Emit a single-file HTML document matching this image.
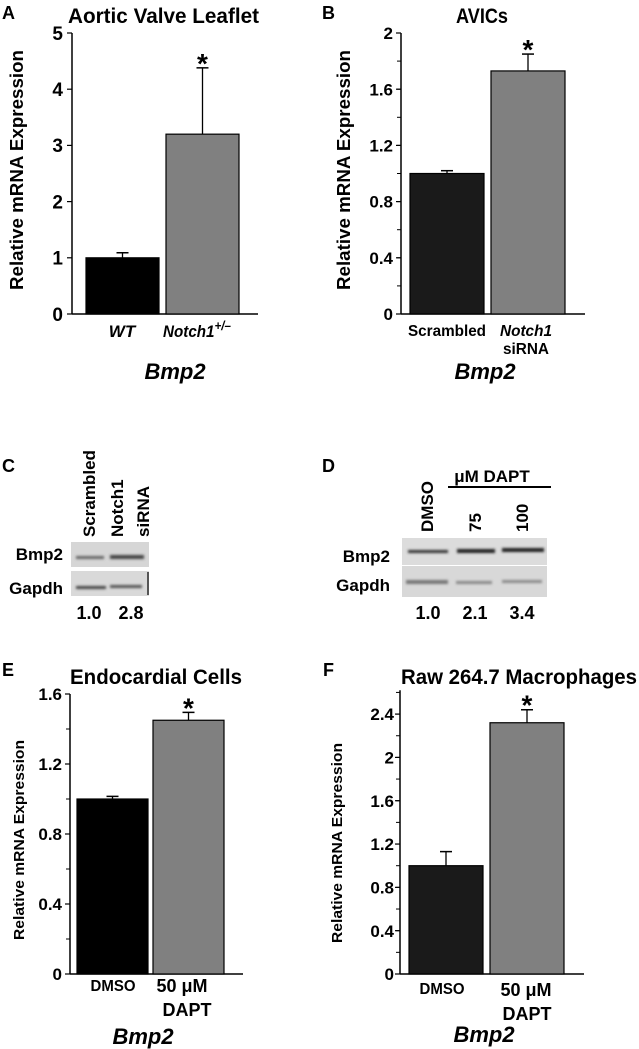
<!DOCTYPE html>
<html><head><meta charset="utf-8"><style>
html,body{margin:0;padding:0;background:#fff;}
svg{display:block;font-family:"Liberation Sans",Arial,sans-serif;font-weight:bold;}
</style></head><body>
<svg id="fig" width="639" height="1049" viewBox="0 0 639 1049" xmlns="http://www.w3.org/2000/svg">
<defs><filter id="blur" x="-20%" y="-100%" width="140%" height="300%"><feGaussianBlur stdDeviation="1.2"/></filter></defs>
<text x="2" y="19" font-size="18">A</text>
<text x="322" y="19" font-size="18">B</text>
<text x="2" y="472" font-size="18">C</text>
<text x="322" y="472" font-size="18">D</text>
<text x="2" y="676" font-size="18">E</text>
<text x="323" y="676" font-size="18">F</text>

<text x="68" y="23" font-size="21" textLength="191" lengthAdjust="spacingAndGlyphs">Aortic Valve Leaflet</text>
<text x="456" y="23" font-size="21" textLength="52" lengthAdjust="spacingAndGlyphs">AVICs</text>
<text x="70" y="684" font-size="21" textLength="172" lengthAdjust="spacingAndGlyphs">Endocardial Cells</text>
<text x="401" y="684" font-size="21" textLength="236" lengthAdjust="spacingAndGlyphs">Raw 264.7 Macrophages</text>

<text transform="translate(23,170) rotate(-90)" text-anchor="middle" font-size="18" textLength="240" lengthAdjust="spacingAndGlyphs">Relative mRNA Expression</text>
<text transform="translate(350,170) rotate(-90)" text-anchor="middle" font-size="18" textLength="240" lengthAdjust="spacingAndGlyphs">Relative mRNA Expression</text>
<text transform="translate(24,840) rotate(-90)" text-anchor="middle" font-size="15" textLength="200" lengthAdjust="spacingAndGlyphs">Relative mRNA Expression</text>
<text transform="translate(342,843) rotate(-90)" text-anchor="middle" font-size="15" textLength="200" lengthAdjust="spacingAndGlyphs">Relative mRNA Expression</text>

<text x="122" y="337" font-size="17" font-style="italic" text-anchor="middle">WT</text>
<text x="197" y="337" font-size="17" font-style="italic" text-anchor="middle" textLength="68" lengthAdjust="spacingAndGlyphs">Notch1<tspan dy="-7" font-size="13">+/–</tspan></text>
<text x="447" y="336" font-size="16" text-anchor="middle" textLength="78" lengthAdjust="spacingAndGlyphs">Scrambled</text>
<text x="526" y="336" font-size="16" font-style="italic" text-anchor="middle" textLength="52" lengthAdjust="spacingAndGlyphs">Notch1</text>
<text x="526" y="354" font-size="16" text-anchor="middle" textLength="46" lengthAdjust="spacingAndGlyphs">siRNA</text>
<text x="175" y="379" font-size="22" font-style="italic" text-anchor="middle">Bmp2</text>
<text x="485" y="379" font-size="22" font-style="italic" text-anchor="middle">Bmp2</text>

<text x="113" y="991" font-size="16" text-anchor="middle" textLength="45" lengthAdjust="spacingAndGlyphs">DMSO</text>
<text x="182" y="992" font-size="18" text-anchor="middle">50 μM</text>
<text x="187" y="1016" font-size="18" text-anchor="middle">DAPT</text>
<text x="143" y="1044" font-size="22" font-style="italic" text-anchor="middle">Bmp2</text>
<text x="442" y="994" font-size="16" text-anchor="middle" textLength="45" lengthAdjust="spacingAndGlyphs">DMSO</text>
<text x="526" y="996" font-size="18" text-anchor="middle">50 μM</text>
<text x="527" y="1020" font-size="18" text-anchor="middle">DAPT</text>
<text x="484" y="1042" font-size="22" font-style="italic" text-anchor="middle">Bmp2</text>

<g>
<text transform="translate(95,537) rotate(-90)" font-size="17">Scrambled</text>
<text transform="translate(123,537) rotate(-90)" font-size="17">Notch1</text>
<text transform="translate(149,537) rotate(-90)" font-size="17">siRNA</text>
<text x="63" y="560" font-size="17" text-anchor="end">Bmp2</text>
<text x="63" y="594" font-size="17" text-anchor="end">Gapdh</text>
<rect x="71" y="542" width="78" height="25" fill="#d6d6d6"/>
<rect x="71" y="571" width="78" height="25" fill="#d9d9d9"/>
<g filter="url(#blur)">
<rect x="76" y="556" width="28" height="3" fill="#666"/>
<rect x="110" y="555" width="34" height="4" fill="#444"/>
<rect x="76" y="586" width="30" height="3" fill="#444"/>
<rect x="110" y="585" width="32" height="3" fill="#555"/>
</g>
<rect x="147" y="572" width="2" height="23" fill="#555"/>
<text x="89" y="619" font-size="18" text-anchor="middle">1.0</text>
<text x="131" y="619" font-size="18" text-anchor="middle">2.8</text>
</g>

<g>
<text x="492" y="482" font-size="17" text-anchor="middle">μM DAPT</text>
<rect x="448" y="486" width="103" height="2" fill="#000"/>
<text transform="translate(433,532) rotate(-90)" font-size="17">DMSO</text>
<text transform="translate(481,532) rotate(-90)" font-size="17">75</text>
<text transform="translate(528,532) rotate(-90)" font-size="17">100</text>
<text x="390" y="562" font-size="17" text-anchor="end">Bmp2</text>
<text x="390" y="591" font-size="17" text-anchor="end">Gapdh</text>
<rect x="402" y="538" width="145" height="27" fill="#dcdcdc"/>
<rect x="402" y="566" width="145" height="31" fill="#d8d8d8"/>
<g filter="url(#blur)">
<rect x="408" y="550" width="40" height="3" fill="#333"/>
<rect x="457" y="549" width="38" height="4" fill="#222"/>
<rect x="502" y="548" width="42" height="4" fill="#222"/>
<rect x="406" y="580" width="42" height="4" fill="#777"/>
<rect x="456" y="581" width="36" height="3" fill="#888"/>
<rect x="502" y="580" width="40" height="3" fill="#8a8a8a"/>
</g>
<text x="428" y="619" font-size="18" text-anchor="middle">1.0</text>
<text x="475" y="619" font-size="18" text-anchor="middle">2.1</text>
<text x="522" y="619" font-size="18" text-anchor="middle">3.4</text>
</g>
</svg>
<script>
const aCategories = ["WT", "Notch1+/-"];
const aValues = [1.0, 3.2];
const aErrors = [0.09, 1.18];
const aTicks = [0, 1, 2, 3, 4, 5];

const bCategories = ["Scrambled", "Notch1 siRNA"];
const bValues = [1.0, 1.73];
const bErrors = [0.02, 0.12];
const bTicks = [0, 0.4, 0.8, 1.2, 1.6, 2];

const eCategories = ["DMSO", "50 uM DAPT"];
const eValues = [1.0, 1.45];
const eErrors = [0.015, 0.045];
const eTicks = [0, 0.4, 0.8, 1.2, 1.6];

const fCategories = ["DMSO", "50 uM DAPT"];
const fValues = [1.0, 2.32];
const fErrors = [0.13, 0.12];
const fTicks = [0, 0.4, 0.8, 1.2, 1.6, 2, 2.4];

const NS = "http://www.w3.org/2000/svg";
const svg = document.getElementById("fig");
function mk(tag, attrs, parent) {
  const el = document.createElementNS(NS, tag);
  for (const k in attrs) el.setAttribute(k, attrs[k]);
  (parent || svg).appendChild(el);
  return el;
}

function drawChart(p, cats, vals, errs, ticks) {
  const g = mk("g", {});
  
  
  const y = v => p.y0 - v * p.scale;
  const ax = mk("line", {x1: p.x0, y1: y(p.yMax), x2: p.x0, y2: p.y0, stroke: "#000", "stroke-width": 1.5}, g);
  
  
  const bx = mk("line", {x1: p.x0, y1: p.y0, x2: p.xEnd, y2: p.y0, stroke: "#000", "stroke-width": 1.5}, g);
  
  
  if (p.minor) {
    for (let v = 0; v <= p.yMax + 1e-9; v += p.minor) {
      mk("line", {x1: p.x0 - 4, y1: y(v), x2: p.x0, y2: y(v), stroke: "#000", "stroke-width": 1}, g);
    }
  }
  ticks.forEach(t => {
    mk("line", {x1: p.x0 - 5, y1: y(t), x2: p.x0, y2: y(t), stroke: "#000", "stroke-width": 1.2}, g);
    const tx = mk("text", {x: p.labelX, y: y(t) + p.fs * 0.36, "font-size": p.fs, "text-anchor": "end"}, g);
    
    
    tx.textContent = String(t);
  });
  cats.forEach((c, i) => {
    const x = p.barX[i], w = p.barW;
    const top = y(vals[i]);
    const eTop = y(vals[i] + errs[i]);
    const cx = x + w / 2;
    const el = mk("line", {x1: cx, y1: top, x2: cx, y2: eTop, stroke: "#000", "stroke-width": 1.3}, g);
    
    
    mk("line", {x1: cx - 6, y1: eTop, x2: cx + 6, y2: eTop, stroke: "#000", "stroke-width": 1.5}, g);
    const r = mk("rect", {x: x, y: top, width: w, height: p.y0 - top, fill: p.colors[i], stroke: "#000", "stroke-width": 1.2}, g);
    
    
  });
  const cx2 = p.barX[1] + p.barW / 2;
  const st = mk("text", {x: cx2, y: y(vals[1] + errs[1]) + 5, "font-size": 28, "text-anchor": "middle"}, g);
  
  
  st.textContent = "*";
}

drawChart({name: "chart-a", x0: 72, y0: 314, scale: 56.2, yMax: 5, xEnd: 258, labelX: 63, fs: 19,
  barX: [86, 166], barW: 73, colors: ["#000", "#808080"]}, aCategories, aValues, aErrors, aTicks);
drawChart({name: "chart-b", x0: 401, y0: 314, scale: 140.5, yMax: 2, minor: 0.2, xEnd: 585, labelX: 393, fs: 17,
  barX: [410, 491], barW: 74, colors: ["#1a1a1a", "#808080"]}, bCategories, bValues, bErrors, bTicks);
drawChart({name: "chart-e", x0: 70, y0: 974, scale: 175, yMax: 1.6, minor: 0.2, xEnd: 243, labelX: 62, fs: 17,
  barX: [77, 153], barW: 71, colors: ["#000", "#808080"]}, eCategories, eValues, eErrors, eTicks);
drawChart({name: "chart-f", x0: 400, y0: 974, scale: 108.3, yMax: 2.62, minor: 0.2, xEnd: 584, labelX: 394, fs: 17,
  barX: [409, 490], barW: 74, colors: ["#1a1a1a", "#808080"]}, fCategories, fValues, fErrors, fTicks);
</script>
</body></html>
